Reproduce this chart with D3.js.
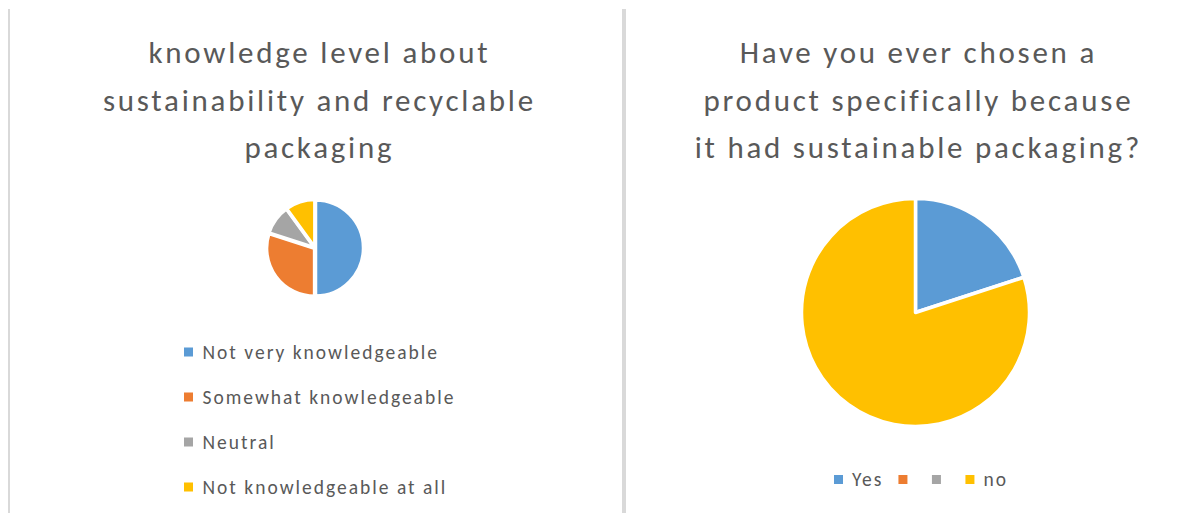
<!DOCTYPE html>
<html>
<head>
<meta charset="utf-8">
<script src="https://cdn.jsdelivr.net/npm/d3@7"></script>
<style>
  html, body { margin: 0; padding: 0; background: #ffffff; }
  svg { display: block; }
  text { font-family: Carlito, Calibri, Lato, "Open Sans", sans-serif; fill: #595959; }
</style>
</head>
<body>
<svg id="chart" width="1194" height="513"></svg>
<script>
// ---- data ----
const leftTitle = ["knowledge level about", "sustainability and recyclable", "packaging"];
const leftCategories = ["Not very knowledgeable", "Somewhat knowledgeable", "Neutral", "Not knowledgeable at all"];
const leftValues = [50, 30, 10, 10];

const rightTitle = ["Have you ever chosen a", "product specifically because", "it had sustainable packaging?"];
const rightCategories = ["Yes", "", "", "no"];
const rightValues = [20, 0, 0, 80];

const palette = ["#5B9BD5", "#ED7D31", "#A5A5A5", "#FFC000"];

// ---- drawing ----
const svg = d3.select("#chart");
svg.append("rect").attr("width", 1194).attr("height", 513).attr("fill", "#ffffff");

// panel borders
svg.append("rect").attr("x", 8).attr("y", 9).attr("width", 2).attr("height", 504).attr("fill", "#d9d9d9");
svg.append("rect").attr("x", 622).attr("y", 9).attr("width", 4).attr("height", 504).attr("fill", "#d9d9d9");

const color = d3.scaleOrdinal().range(palette);
const pie = d3.pie().sort(null).value(d => d.value);

const titleSpacing = 2.75;
function drawTitle(lines, cx) {
  const g = svg.append("g");
  g.selectAll("text").data(lines).join("text")
    .attr("x", cx + titleSpacing / 2)
    .attr("y", (d, i) => 63 + i * 47.5)
    .attr("text-anchor", "middle")
    .style("font-size", "31px")
    .style("letter-spacing", titleSpacing + "px")
    .text(d => d);
}

function drawPie(cats, vals, cx, cy, r, explode) {
  const data = cats.map((c, i) => ({ key: i + ":" + c, label: c, value: vals[i] }));
  color.domain(data.map(d => d.key));
  const arcs = pie(data).filter(d => d.value > 0);
  const arc = d3.arc().innerRadius(0).outerRadius(r);
  const g = svg.append("g").attr("transform", `translate(${cx},${cy})`);
  g.selectAll("path").data(arcs).join("path")
    .attr("d", arc)
    .attr("transform", d => {
      const a = (d.startAngle + d.endAngle) / 2;
      return `translate(${Math.sin(a) * explode},${-Math.cos(a) * explode})`;
    })
    .attr("fill", d => color(d.data.key))
    .attr("stroke", "#ffffff")
    .attr("stroke-width", 3.5)
    .attr("stroke-linejoin", "round");
  return data;
}

// Left chart
drawTitle(leftTitle, 318);
const leftData = drawPie(leftCategories, leftValues, 315, 248, 48, 0.5);

const yLeft = d3.scalePoint().domain(leftData.map(d => d.key)).range([352, 487]);
color.domain(leftData.map(d => d.key));
const lgL = svg.append("g");
const rowsL = lgL.selectAll("g").data(leftData).join("g")
  .attr("transform", d => `translate(184,${yLeft(d.key)})`);
rowsL.append("rect").attr("x", 0).attr("y", -4.5).attr("width", 9).attr("height", 9)
  .attr("fill", d => color(d.key));
rowsL.append("text").attr("x", 18.5).attr("y", 6.5)
  .style("font-size", "19.5px").style("letter-spacing", "2px").text(d => d.label);

// Right chart
drawTitle(rightTitle, 917);
const rightData = drawPie(rightCategories, rightValues, 915.5, 312.5, 114, 0);
color.domain(rightData.map(d => d.key));

const lgR = svg.append("g").attr("transform", "translate(834,479.5)");
let xOff = 0;
rightData.forEach(d => {
  const item = lgR.append("g").attr("transform", `translate(${xOff},0)`);
  item.append("rect").attr("x", 0).attr("y", -4.5).attr("width", 9).attr("height", 9).attr("fill", color(d.key));
  const t = item.append("text").attr("x", 18).attr("y", 6.5)
    .style("font-size", "19.5px").style("letter-spacing", "2px").text(d.label);
  const w = d.label ? t.node().getComputedTextLength() : 0;
  xOff += d.label ? 18 + w + 15 : 33.5;
});
</script>
</body>
</html>
